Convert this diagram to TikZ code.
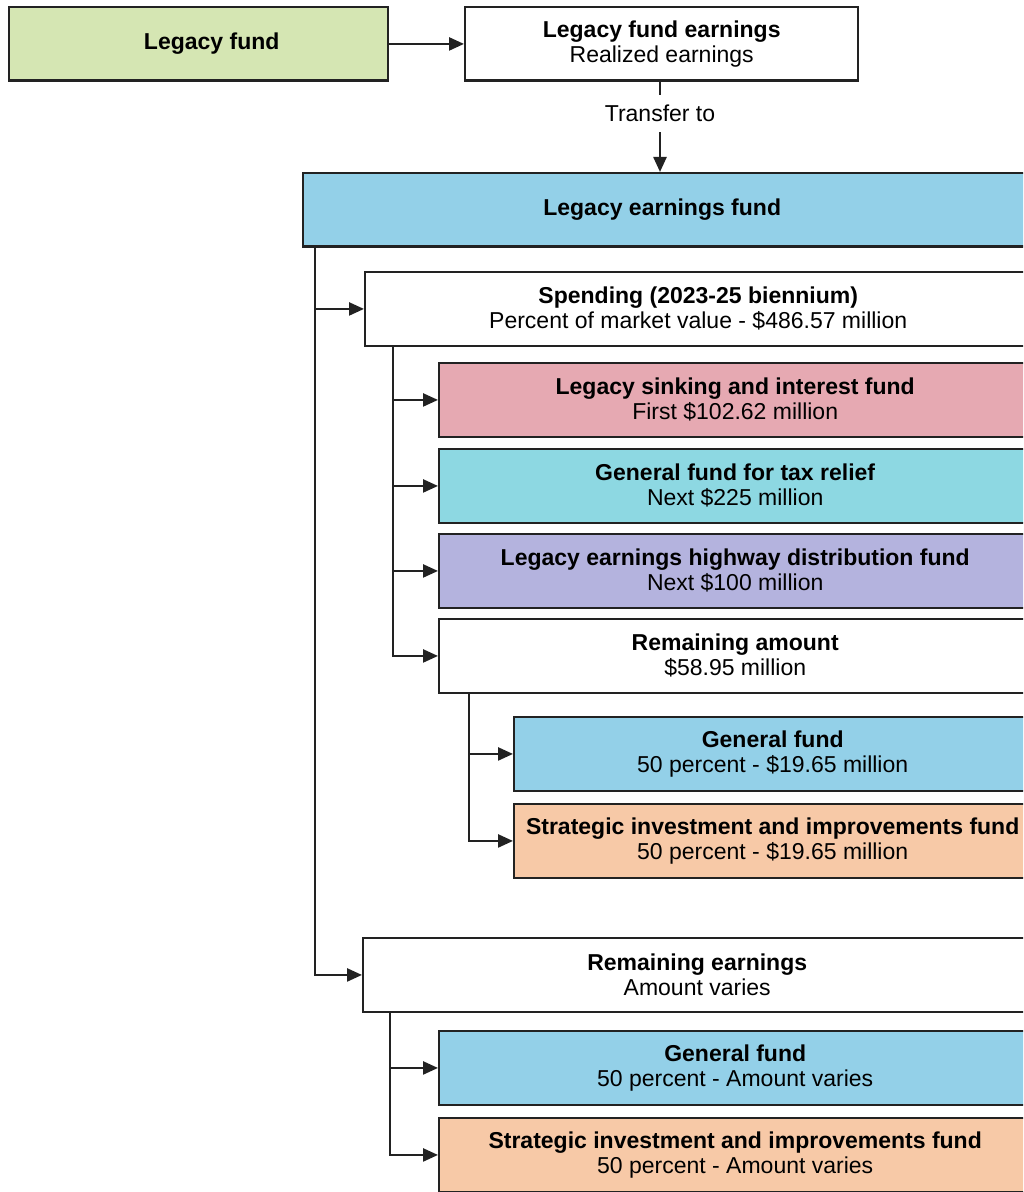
\documentclass[tikz,border=0pt]{standalone}
\usepackage{fontspec}
\setmainfont{Liberation Sans}
\usetikzlibrary{arrows.meta}
\definecolor{cgreen}{HTML}{D5E6B3}
\definecolor{cblue}{HTML}{93D0E8}
\definecolor{ccyan}{HTML}{8DD8E2}
\definecolor{cpink}{HTML}{E6A9B2}
\definecolor{clav}{HTML}{B4B3DE}
\definecolor{cpeach}{HTML}{F7C9A7}
\definecolor{cline}{HTML}{222222}
\begin{document}
\begin{tikzpicture}[x=0.5pt,y=-0.5pt,
  fb/.style={draw=cline, line width=1.2pt, inner sep=0pt, align=center,
    font=\fontsize{11.5}{12.5}\selectfont, anchor=north west, minimum height=36.75pt},
  arr/.style={draw=cline, line width=1.2pt, -{Triangle[length=7.5pt,width=6.5pt]}},
  ln/.style={draw=cline, line width=1.2pt}]
\useasboundingbox (0,0) rectangle (1023,1192);
\clip (0,0) rectangle (1023,1192);
\fill[white] (0,0) rectangle (1023,1192);

\node[fb, fill=cgreen, minimum width=189.5pt] (lf) at (8,6) {\hspace*{13pt}\textbf{Legacy fund}};
\node[fb, fill=white, minimum width=196.5pt] (lfe) at (464,6) {\textbf{Legacy fund earnings}\\Realized earnings};
\node[font=\fontsize{11.5}{12.5}\selectfont, inner sep=0pt, minimum height=18.5pt] (tr) at (660,113.5) {Transfer to};
\node[fb, fill=cblue, minimum width=370pt] (le) at (302,172) {\hspace*{-11pt}\textbf{Legacy earnings fund}};

\node[fb, fill=white, minimum width=333pt] (sp) at (364,271) {\textbf{Spending (2023-25 biennium)}\\Percent of market value - \$486.57 million};
\node[fb, fill=cpink, minimum width=296pt] (s1) at (438,362) {\textbf{Legacy sinking and interest fund}\\First \$102.62 million};
\node[fb, fill=ccyan, minimum width=296pt] (s2) at (438,448) {\textbf{General fund for tax relief}\\Next \$225 million};
\node[fb, fill=clav, minimum width=296pt] (s3) at (438,533) {\textbf{Legacy earnings highway distribution fund}\\Next \$100 million};
\node[fb, fill=white, minimum width=296pt] (ra) at (438,618) {\textbf{Remaining amount}\\\$58.95 million};
\node[fb, fill=cblue, minimum width=258.5pt] (g1) at (513,716) {\textbf{General fund}\\50 percent - \$19.65 million};
\node[fb, fill=cpeach, minimum width=258.5pt] (si1) at (513,803) {\textbf{Strategic investment and improvements fund}\\50 percent - \$19.65 million};

\node[fb, fill=white, minimum width=334pt] (re) at (362,937) {\textbf{Remaining earnings}\\Amount varies};
\node[fb, fill=cblue, minimum width=296pt] (g2) at (438,1030) {\textbf{General fund}\\50 percent - Amount varies};
\node[fb, fill=cpeach, minimum width=296pt] (si2) at (438,1117) {\textbf{Strategic investment and improvements fund}\\50 percent - Amount varies};

\draw[arr] (lf.east) -- (lfe.west);
\draw[ln] (lfe.south -| tr) -- (tr.north);
\draw[arr] (tr.south) -- (tr.south |- le.north);

\draw[arr] ([xshift=6.5pt]le.south west) |- (sp.west);
\draw[arr] ([xshift=6.5pt]le.south west) |- (re.west);

\draw[arr] ([xshift=14.5pt]sp.south west) |- (s1.west);
\draw[arr] ([xshift=14.5pt]sp.south west) |- (s2.west);
\draw[arr] ([xshift=14.5pt]sp.south west) |- (s3.west);
\draw[arr] ([xshift=14.5pt]sp.south west) |- (ra.west);

\draw[arr] ([xshift=15.5pt]ra.south west) |- (g1.west);
\draw[arr] ([xshift=15.5pt]ra.south west) |- (si1.west);

\draw[arr] ([xshift=14pt]re.south west) |- (g2.west);
\draw[arr] ([xshift=14pt]re.south west) |- (si2.west);
\end{tikzpicture}
\end{document}
